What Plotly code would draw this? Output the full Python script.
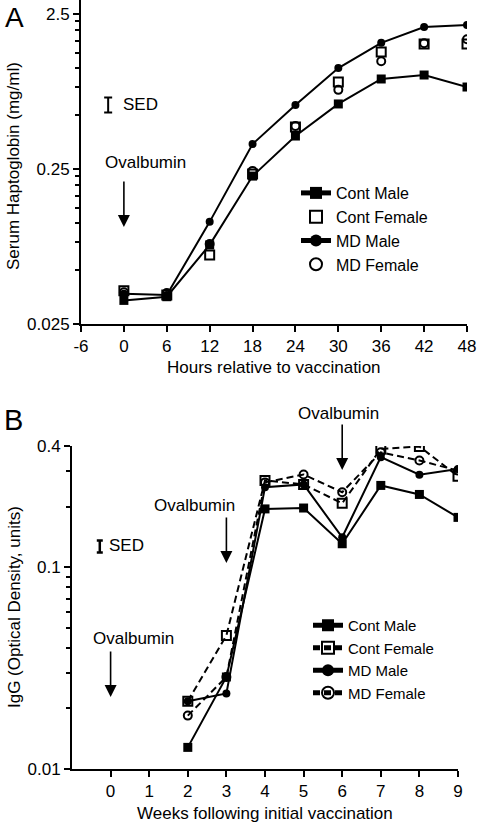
import math
import plotly.graph_objects as go

# ---------------- data ----------------
hours = [0, 6, 12, 18, 24, 30, 36, 42, 48]
a_cont_male = [0.0355, 0.0375, 0.081, 0.225, 0.408, 0.657, 0.952, 1.01, 0.845]
a_cont_female = [0.041, 0.0384, 0.0697, 0.232, 0.467, 0.91, 1.42, 1.60, 1.60]
a_md_male = [0.0392, 0.0385, 0.114, 0.362, 0.647, 1.12, 1.63, 2.06, 2.12]
a_md_female = [0.040, 0.0396, 0.082, 0.243, 0.474, 0.81, 1.24, 1.62, 1.72]

weeks = [2, 3, 4, 5, 6, 7, 8, 9]
b_cont_male = [0.0128, 0.0286, 0.195, 0.197, 0.131, 0.255, 0.23, 0.177]
b_cont_female = [0.0217, 0.046, 0.27, 0.258, 0.208, 0.387, 0.398, 0.283]
b_md_male = [0.0217, 0.0237, 0.25, 0.258, 0.141, 0.352, 0.288, 0.308]
b_md_female = [0.0184, 0.0286, 0.264, 0.289, 0.236, 0.372, 0.339, 0.302]

a_xticks = [-6, 0, 6, 12, 18, 24, 30, 36, 42, 48]
a_xticklabels = ["-6", "0", "6", "12", "18", "24", "30", "36", "42", "48"]
a_yticks = [0.025, 0.25, 2.5]
a_yticklabels = ["0.025", "0.25", "2.5"]
a_yminor = [k * 0.028 for k in range(2, 9)] + [k * 0.28 for k in range(2, 9)]
b_xticks = list(range(0, 10))
b_yticks = [0.01, 0.1, 0.4]
b_yticklabels = ["0.01", "0.1", "0.4"]
b_yminor = [k * 0.01 for k in range(2, 10)] + [0.2, 0.3]

# SED indicators
a_sed = dict(x=-2.2, y=0.647, up=0.076, down=0.068, tx=2.32, ty=0.656)
b_sed = dict(x=-0.28, y=0.127, up=0.009, down=0.0086, tx=0.40, ty=0.129)

# vaccination arrows (x of arrow, tip y value, text x, text y)
a_arrows = [dict(x=0, tip=0.1057, tx=3.09, ty=0.2735)]
b_arrows = [dict(x=0, tip=0.02275, tx=0.6, ty=0.0442),
            dict(x=3, tip=0.1052, tx=2.18, ty=0.2018),
            dict(x=6, tip=0.304, tx=5.91, ty=0.583)]

FONT = "Liberation Sans, Arial, Helvetica, sans-serif"
FS = 17

W, H = 477, 823


def px(x):
    return x / W


def py(y):
    return 1 - y / H


A_XDOM = [px(81), px(467)]
A_YDOM = [py(324), py(0)]
A_YRANGE = [math.log10(0.025), math.log10(2.5) + 14 / 155]
B_XDOM = [px(72), px(458)]
B_YDOM = [py(769), py(446)]
B_YRANGE = [-2, math.log10(0.4)]


def log_to_paper(v, dom, rng):
    return dom[0] + (math.log10(v) - rng[0]) / (rng[1] - rng[0]) * (dom[1] - dom[0])


fig = go.Figure()

# ---------- Panel A ----------
fig.add_trace(go.Scatter(x=hours, y=a_cont_male, name="Cont Male", mode="lines+markers",
                         line=dict(color="black", width=2),
                         marker=dict(symbol="square", size=9, color="black"),
                         xaxis="x", yaxis="y", legend="legend"))
fig.add_trace(go.Scatter(x=hours, y=a_cont_female, name="Cont Female", mode="markers",
                         marker=dict(symbol="square-open", size=9, color="black", line=dict(width=2)),
                         xaxis="x", yaxis="y", legend="legend"))
fig.add_trace(go.Scatter(x=hours, y=a_md_male, name="MD Male", mode="lines+markers",
                         line=dict(color="black", width=2),
                         marker=dict(symbol="circle", size=8, color="black"),
                         xaxis="x", yaxis="y", legend="legend"))
fig.add_trace(go.Scatter(x=hours, y=a_md_female, name="MD Female", mode="markers",
                         marker=dict(symbol="circle-open", size=8, color="black", line=dict(width=2)),
                         xaxis="x", yaxis="y", legend="legend"))
fig.add_trace(go.Scatter(x=[a_sed["x"]], y=[a_sed["y"]], mode="markers", showlegend=False,
                         marker=dict(size=1, color="rgba(0,0,0,0)"), hoverinfo="skip",
                         error_y=dict(type="data", symmetric=False, array=[a_sed["up"]],
                                      arrayminus=[a_sed["down"]], color="black", thickness=2, width=4),
                         xaxis="x", yaxis="y"))

# ---------- Panel B ----------
fig.add_trace(go.Scatter(x=weeks, y=b_cont_male, name="Cont Male", mode="lines+markers",
                         line=dict(color="black", width=2),
                         marker=dict(symbol="square", size=9, color="black"),
                         xaxis="x2", yaxis="y2", legend="legend2"))
fig.add_trace(go.Scatter(x=weeks, y=b_cont_female, name="Cont Female", mode="lines+markers",
                         line=dict(color="black", width=2, dash="7px,4px"),
                         marker=dict(symbol="square-open", size=9, color="black", line=dict(width=2)),
                         xaxis="x2", yaxis="y2", legend="legend2"))
fig.add_trace(go.Scatter(x=weeks, y=b_md_male, name="MD Male", mode="lines+markers",
                         line=dict(color="black", width=2),
                         marker=dict(symbol="circle", size=8, color="black"),
                         xaxis="x2", yaxis="y2", legend="legend2"))
fig.add_trace(go.Scatter(x=weeks, y=b_md_female, name="MD Female", mode="lines+markers",
                         line=dict(color="black", width=2, dash="7px,4px"),
                         marker=dict(symbol="circle-open", size=8, color="black", line=dict(width=2)),
                         xaxis="x2", yaxis="y2", legend="legend2"))
fig.add_trace(go.Scatter(x=[b_sed["x"]], y=[b_sed["y"]], mode="markers", showlegend=False,
                         marker=dict(size=1, color="rgba(0,0,0,0)"), hoverinfo="skip",
                         error_y=dict(type="data", symmetric=False, array=[b_sed["up"]],
                                      arrayminus=[b_sed["down"]], color="black", thickness=2.5, width=3),
                         xaxis="x2", yaxis="y2"))

axis_common = dict(showline=True, linecolor="black", linewidth=2, ticks="outside",
                   ticklen=6, tickwidth=2, tickcolor="black", showgrid=False, zeroline=False,
                   automargin=False, ticklabeloverflow="allow",
                   tickfont=dict(family=FONT, size=FS, color="black"))

annotations = []


def text_font(size=FS):
    return dict(family=FONT, size=size, color="black")


def arrow_ann(xref, yref, a, ydom, yrng):
    return [
        dict(x=a["x"], y=math.log10(a["tip"]), xref=xref, yref=yref, text="", showarrow=True,
             ax=0, ay=-47, arrowhead=2, arrowsize=1.5, arrowwidth=1.6, arrowcolor="black"),
        dict(x=a["tx"], y=log_to_paper(a["ty"], ydom, yrng), xref=xref, yref="paper", text="Ovalbumin",
             showarrow=False, xanchor="center", yanchor="middle", font=text_font()),
    ]


for a in a_arrows:
    annotations += arrow_ann("x", "y", a, A_YDOM, A_YRANGE)
for a in b_arrows:
    annotations += arrow_ann("x2", "y2", a, B_YDOM, B_YRANGE)

C = dict(xanchor="center", yanchor="middle", showarrow=False)
annotations += [
    dict(x=a_sed["tx"], y=math.log10(a_sed["ty"]), xref="x", yref="y", text="SED", font=text_font(), **C),
    dict(x=b_sed["tx"], y=math.log10(b_sed["ty"]), xref="x2", yref="y2", text="SED", font=text_font(), **C),
    dict(x=px(14), y=py(17), xref="paper", yref="paper", text="A", font=text_font(28), **C),
    dict(x=px(13), y=py(420), xref="paper", yref="paper", text="B", font=text_font(29), **C),
    dict(x=px(274), y=py(368), xref="paper", yref="paper", text="Hours relative to vaccination",
         font=text_font(), **C),
    dict(x=px(265), y=py(813), xref="paper", yref="paper", text="Weeks following initial vaccination",
         font=text_font(), **C),
    dict(x=px(14), y=py(166), xref="paper", yref="paper", text="Serum Haptoglobin (mg/ml)",
         textangle=-90, font=text_font(), **C),
    dict(x=px(14), y=py(607), xref="paper", yref="paper", text="IgG (Optical Density, units)",
         textangle=-90, font=text_font(), **C),
]

legend_common = dict(bgcolor="rgba(0,0,0,0)", borderwidth=0, xanchor="left", yanchor="top",
                     itemsizing="constant")

fig.update_layout(
    template="none",
    width=W, height=H, margin=dict(l=0, r=0, t=0, b=0, autoexpand=False),
    paper_bgcolor="white", plot_bgcolor="white",
    font=dict(family=FONT, size=FS, color="black"),
    xaxis=dict(domain=A_XDOM, range=[-6, 48], tickvals=a_xticks, ticktext=a_xticklabels,
               anchor="y", **axis_common),
    yaxis=dict(domain=A_YDOM, type="log", range=A_YRANGE,
               tickvals=a_yticks, ticktext=a_yticklabels, anchor="x",
               minor=dict(tickvals=a_yminor, ticks="outside", ticklen=4, tickwidth=1.5, tickcolor="black"),
               **axis_common),
    xaxis2=dict(domain=B_XDOM, range=[-1, 9], tickvals=b_xticks, anchor="y2", **axis_common),
    yaxis2=dict(domain=B_YDOM, type="log", range=B_YRANGE,
                tickvals=b_yticks, ticktext=b_yticklabels, anchor="x2",
                minor=dict(tickvals=b_yminor, ticks="outside", ticklen=4, tickwidth=1.5, tickcolor="black"),
                **axis_common),
    legend=dict(x=px(296), y=py(176), font=dict(family=FONT, size=16, color="black"), **legend_common),
    legend2=dict(x=px(308), y=py(609), font=dict(family=FONT, size=15, color="black"), **legend_common),
    annotations=annotations,
    showlegend=True,
)

fig.write_html("out.html", config={"displayModeBar": False},
               post_script="document.body.style.margin='0px';document.body.style.overflow='hidden';")
